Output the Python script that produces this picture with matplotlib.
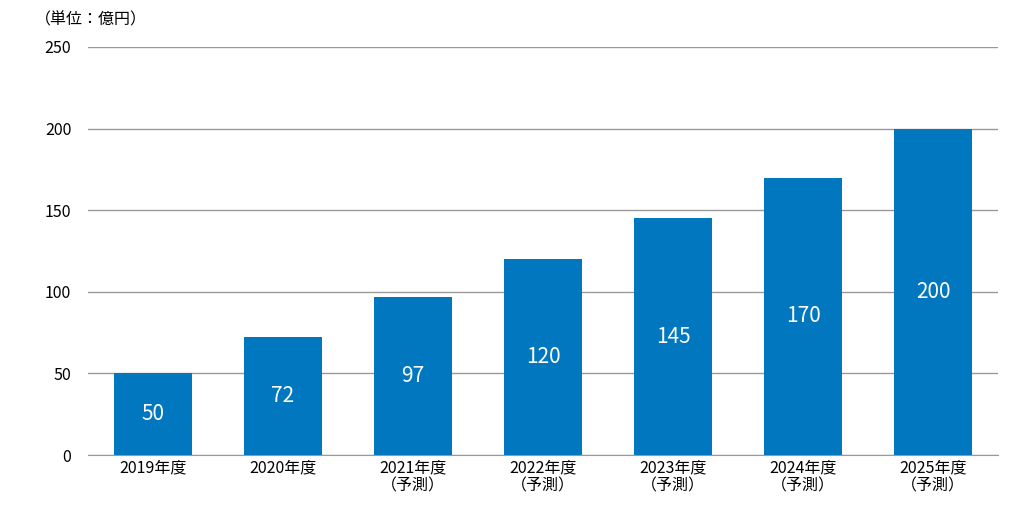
import matplotlib
matplotlib.use("Agg")
import matplotlib.pyplot as plt

categories = ["2019年度", "2020年度", "2021年度\n（予測）", "2022年度\n（予測）", "2023年度\n（予測）", "2024年度\n（予測）", "2025年度\n（予測）"]
values = [50, 72, 97, 120, 145, 170, 200]
yticks = [0, 50, 100, 150, 200, 250]

plt.rcParams["font.family"] = "Noto Sans CJK JP"
fig = plt.figure(figsize=(10.3, 5.13), dpi=100)
ax = fig.add_axes([88/1030, 1-455/513, 910/1030, 408/513])
x = range(len(values))
bars = ax.bar(x, values, width=0.6, color="#0077BE", zorder=3)
for xi, v in zip(x, values):
    ax.text(xi, v/2, str(v), ha="center", va="center", color="white", fontsize=15, zorder=4)
ax.set_xlim(-0.5, len(values)-0.5)
ax.set_ylim(0, 250)
ax.set_yticks(yticks)
ax.set_xticks(list(x))
ax.set_xticklabels(categories, fontsize=11.5, linespacing=1.1)
ax.tick_params(axis="y", labelsize=11.5, length=0, pad=12)
ax.tick_params(axis="x", length=0, pad=3)
ax.grid(axis="y", color="#999999", linewidth=1, zorder=0)
for s in ["top", "right", "left"]:
    ax.spines[s].set_visible(False)
ax.spines["bottom"].set_color("#999999")
fig.text(35/1030, 1-20/513, "（単位：億円）", fontsize=11.5, va="center", ha="left")
fig.savefig("out.png", dpi=100)
